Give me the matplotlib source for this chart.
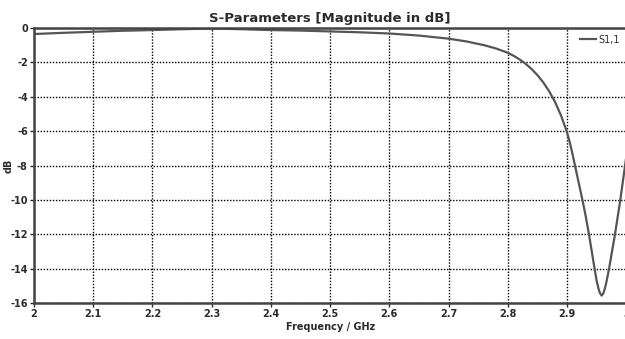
import matplotlib
matplotlib.use("Agg")
import matplotlib.pyplot as plt

freq_ghz = [2.0, 2.05, 2.1, 2.15, 2.2, 2.25, 2.3, 2.35, 2.4, 2.45, 2.5, 2.55, 2.6,
            2.65, 2.7, 2.73, 2.76, 2.78, 2.8, 2.81, 2.82, 2.83, 2.84, 2.85, 2.86,
            2.87, 2.88, 2.89, 2.9, 2.905, 2.91, 2.915, 2.92, 2.926, 2.931, 2.937,
            2.942, 2.9465, 2.95, 2.953, 2.9555, 2.9585, 2.9615, 2.964, 2.967,
            2.971, 2.976, 2.981, 2.9855, 2.99, 2.994, 2.998, 3.0]
s11_db = [-0.35, -0.28, -0.22, -0.16, -0.12, -0.07, -0.03, -0.07, -0.12, -0.15,
          -0.2, -0.25, -0.32, -0.44, -0.62, -0.78, -1.0, -1.19, -1.44, -1.62,
          -1.83, -2.08, -2.38, -2.74, -3.17, -3.69, -4.32, -5.1, -6.07, -6.7,
          -7.45, -8.25, -9.05, -10.0, -10.85, -12.0, -13.05, -14.0, -14.7,
          -15.15, -15.42, -15.57, -15.42, -15.15, -14.7, -14.0, -13.0, -12.0,
          -11.0, -10.0, -9.0, -8.0, -7.5]

x_ticks = [2.0, 2.1, 2.2, 2.3, 2.4, 2.5, 2.6, 2.7, 2.8, 2.9, 3.0]
x_labels = ["2", "2.1", "2.2", "2.3", "2.4", "2.5", "2.6", "2.7", "2.8", "2.9", "3"]
y_ticks = [0, -2, -4, -6, -8, -10, -12, -14, -16]
y_labels = ["0", "-2", "-4", "-6", "-8", "-10", "-12", "-14", "-16"]

title = "S-Parameters [Magnitude in dB]"
x_label = "Frequency / GHz"
y_label = "dB"
series_name = "S1,1"

txt = "#2b2b2b"
plt.rcParams['font.family'] = ['DejaVu Sans']

fig = plt.figure(figsize=(6.25, 3.39), dpi=100)
ax = fig.add_axes([34/625, 1-303/339, 1-34/625 + 0.002, (303-28)/339])

ax.plot(freq_ghz, s11_db, color="#555555", lw=1.6, label=series_name,
        solid_joinstyle="round")
ax.set_xlim(2.0, 3.0)
ax.set_ylim(-16, 0)
ax.set_xticks(x_ticks)
ax.set_xticklabels(x_labels)
ax.set_yticks(y_ticks)
ax.set_yticklabels(y_labels)

ax.grid(True, color="black", linestyle=(0, (1, 1.2)), lw=1.0)
for s in ax.spines.values():
    s.set_color("#444444")
    s.set_linewidth(1.8)

ax.tick_params(axis="both", labelsize=7, colors=txt, length=3, width=1, pad=1.5)
for lab in ax.get_xticklabels() + ax.get_yticklabels():
    lab.set_fontweight("bold")

ax.set_title(title, fontsize=9.5, fontweight="bold", color=txt, pad=4)
ax.set_xlabel(x_label, fontsize=7, fontweight="bold", color=txt, labelpad=2)
ax.set_ylabel(y_label, fontsize=7, fontweight="bold", color=txt)
ax.yaxis.set_label_coords(-0.035, 0.5)

leg = ax.legend(loc="upper right", frameon=False, fontsize=7, handlelength=1.6,
                handletextpad=0.2, borderaxespad=0.3)
for t in leg.get_texts():
    t.set_color(txt)

fig.savefig("out.png", dpi=100)
